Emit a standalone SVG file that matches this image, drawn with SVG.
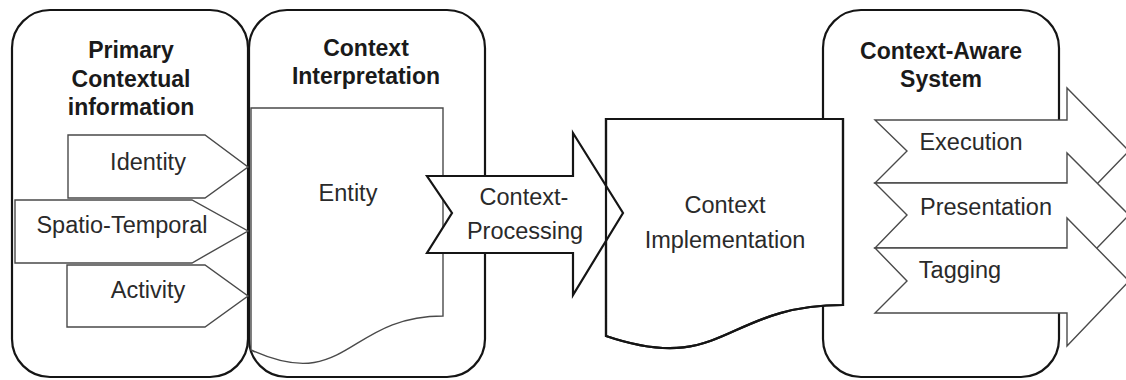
<svg xmlns="http://www.w3.org/2000/svg" width="1126" height="380" viewBox="0 0 1126 380">
  <style>
    .box { fill: #ffffff; stroke: #151515; stroke-width: 2.2; }
    .thick { fill: #ffffff; stroke: #151515; stroke-width: 2.2; stroke-linejoin: miter; }
    .thin { fill: #ffffff; stroke: #4a4a4a; stroke-width: 1.4; stroke-linejoin: miter; }
    .outline { fill: none; stroke: #151515; stroke-width: 2.2; }
    .title { font-family: "Liberation Sans", Arial, sans-serif; font-size: 23px; font-weight: bold; fill: #1a1a1a; text-anchor: middle; }
    .label { font-family: "Liberation Sans", Arial, sans-serif; font-size: 23.5px; fill: #2a2a2a; text-anchor: middle; }
  </style>
  <rect width="1126" height="380" fill="#ffffff"/>

  <!-- Primary contextual information -->
  <g id="primary">
    <rect class="box" x="12" y="10" width="236" height="367" rx="38" ry="38"/>
    <text class="title" x="131" y="58">Primary</text>
    <text class="title" x="131" y="87">Contextual</text>
    <text class="title" x="131" y="115">information</text>
  </g>

  <!-- Context interpretation -->
  <g id="interpretation">
    <rect class="box" x="249" y="10" width="236" height="367" rx="38" ry="38"/>
    <text class="title" x="366" y="56">Context</text>
    <text class="title" x="366" y="84">Interpretation</text>
  </g>

  <g id="entity">
    <path class="thin" d="M251,108 H443 V316 C347,316 347,394 251,350 Z"/>
    <text class="label" x="348" y="201">Entity</text>
  </g>

  <g id="identity">
    <path class="thin" d="M68,135 H205 L248,167 L205,198 H68 Z"/>
    <text class="label" x="148" y="170">Identity</text>
  </g>
  <g id="spatio-temporal">
    <path class="thin" d="M15,200 H192 L248,231 L192,263 H15 Z"/>
    <text class="label" x="122" y="233">Spatio-Temporal</text>
  </g>
  <g id="activity">
    <path class="thin" d="M67,265 H205 L248,296 L205,327 H67 Z"/>
    <text class="label" x="148" y="298">Activity</text>
  </g>

  <!-- Context-aware system -->
  <g id="context-aware">
    <rect class="box" x="823" y="10" width="236" height="367" rx="38" ry="38"/>
    <text class="title" x="941" y="59">Context-Aware</text>
    <text class="title" x="941" y="87">System</text>
  </g>

  <!-- Context implementation -->
  <defs>
    <path id="impl-shape" d="M606,119 H843 V305 C724,305 724,376 606,336 Z"/>
  </defs>
  <g id="implementation">
    <use href="#impl-shape" class="thick"/>
    <text class="label" x="725" y="213">Context</text>
    <text class="label" x="725" y="248">Implementation</text>
  </g>

  <!-- Connectors -->
  <g id="connectors">
    <g id="context-processing">
      <path class="thick" d="M427,176 H573 V133 L623,213 L573,295 V253 H427 L452,213 Z"/>
      <text class="label" x="524" y="205">Context-</text>
      <text class="label" x="525" y="239">Processing</text>
    </g>
    <use href="#impl-shape" class="outline"/>

    <g id="execution">
      <path class="thin" d="M875,120 H1067 V88 L1129,151 L1067,215 V183 H875 L907,151 Z"/>
      <text class="label" x="971" y="150">Execution</text>
    </g>
    <g id="presentation">
      <path class="thin" d="M875,183 H1067 V153 L1129,215 L1067,279 V248 H875 L907,215 Z"/>
      <text class="label" x="986" y="215">Presentation</text>
    </g>
    <g id="tagging">
      <path class="thin" d="M875,248 H1067 V218 L1129,281 L1067,346 V313 H875 L907,281 Z"/>
      <text class="label" x="960" y="278">Tagging</text>
    </g>
  </g>
</svg>
